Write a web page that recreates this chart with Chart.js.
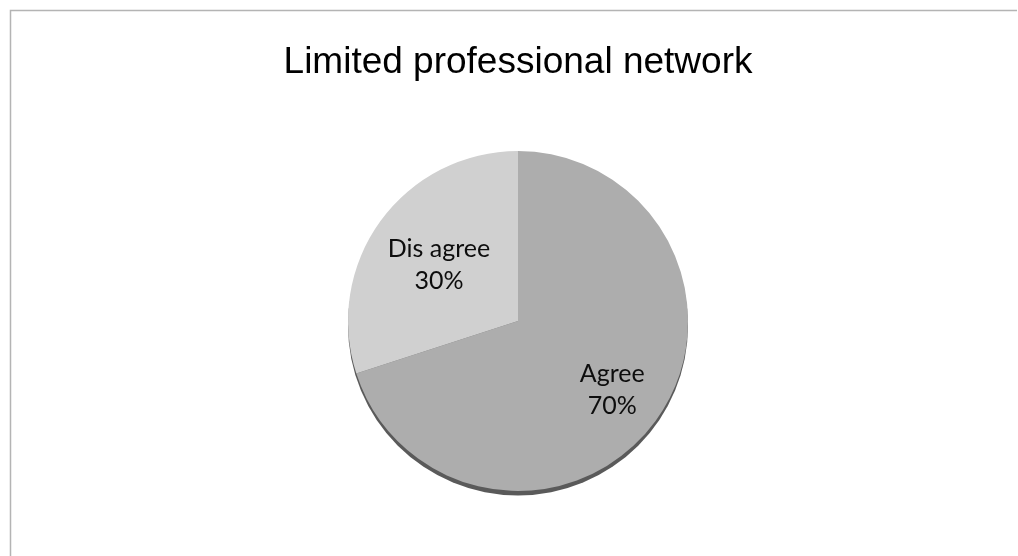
<!DOCTYPE html>
<html>
<head>
<meta charset="utf-8">
<script src="https://cdn.jsdelivr.net/npm/chart.js@4/dist/chart.umd.min.js"></script>
<style>
  html, body { margin: 0; padding: 0; background: #fff; }
  #wrap { width: 1018px; height: 556px; }
</style>
</head>
<body>
<div id="wrap"><canvas id="pieChart" width="1018" height="556"></canvas></div>
<script>
const categories = ['Agree', 'Dis agree'];
const shares = [70, 30];
const sliceColors = ['#adadad', '#d0d0d0'];

// frame lines along the top and left edges
const framePlugin = {
  id: 'frame',
  beforeDraw(chart) {
    const c = chart.ctx;
    c.save();
    c.strokeStyle = '#b4b4b4';
    c.lineWidth = 1.5;
    c.beginPath();
    c.moveTo(10.5, chart.height);
    c.lineTo(10.5, 10.5);
    c.lineTo(1017, 10.5);
    c.stroke();
    c.restore();
  }
};

// dark rim under the pie
const shadowPlugin = {
  id: 'pieShadow',
  beforeDatasetsDraw(chart, args, opts) {
    const arc = chart.getDatasetMeta(0).data[0];
    if (!arc) return;
    const c = chart.ctx;
    c.save();
    c.fillStyle = opts.color;
    c.beginPath();
    c.arc(arc.x + opts.dx, arc.y + opts.dy, arc.outerRadius, 0, Math.PI * 2);
    c.fill();
    c.restore();
  }
};

// category name and percentage inside each slice
const sliceLabels = {
  id: 'sliceLabels',
  afterDatasetsDraw(chart, args, opts) {
    const meta = chart.getDatasetMeta(0);
    const values = chart.data.datasets[0].data;
    const total = values.reduce((a, b) => a + b, 0);
    const c = chart.ctx;
    c.save();
    c.font = opts.font;
    c.fillStyle = opts.color;
    c.textAlign = 'center';
    c.textBaseline = 'alphabetic';
    meta.data.forEach((arc, i) => {
      const mid = (arc.startAngle + arc.endAngle) / 2;
      const r = arc.outerRadius * opts.radius[i];
      const x = arc.x + Math.cos(mid) * r;
      const y = arc.y + Math.sin(mid) * r;
      const pct = Math.round(values[i] / total * 100) + '%';
      c.fillText(chart.data.labels[i], x, y - 7);
      c.fillText(pct, x, y + 25);
    });
    c.restore();
  }
};

new Chart(document.getElementById('pieChart').getContext('2d'), {
  type: 'pie',
  data: {
    labels: categories,
    datasets: [{
      data: shares,
      backgroundColor: sliceColors,
      borderWidth: 0
    }]
  },
  plugins: [framePlugin, shadowPlugin, sliceLabels],
  options: {
    responsive: false,
    animation: false,
    layout: { padding: { left: 18, right: 0, top: 0, bottom: 65 } },
    plugins: {
      legend: { display: false },
      tooltip: { enabled: false },
      title: {
        display: true,
        text: 'Limited professional network',
        color: '#000',
        font: { family: '"Liberation Sans", Arial, sans-serif', size: 37, weight: 'normal', lineHeight: 1.2 },
        padding: { top: 41, bottom: 65.6 }
      },
      pieShadow: { color: '#5a5a5a', dx: 0, dy: 4.5 },
      sliceLabels: {
        font: '25px Lato, "Open Sans", sans-serif',
        color: '#0d0d0d',
        radius: [0.685, 0.574]
      }
    }
  }
});
</script>
</body>
</html>
